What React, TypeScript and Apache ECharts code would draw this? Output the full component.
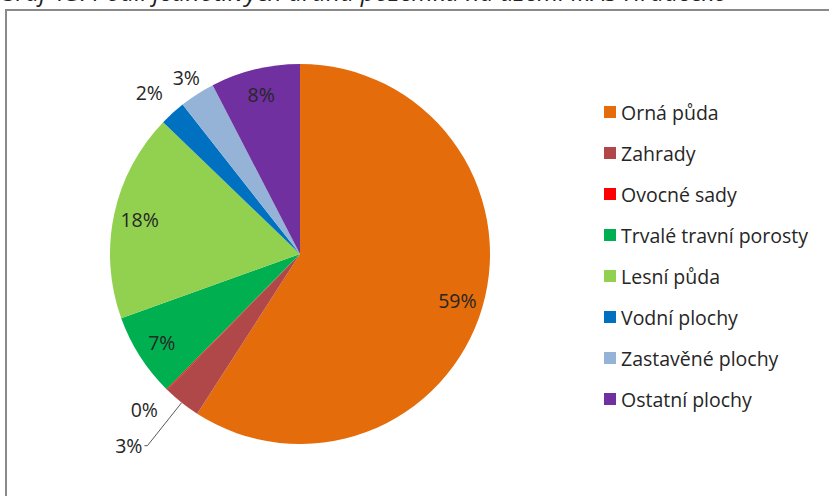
import React, { useEffect, useRef } from "react";
import * as echarts from "echarts";

const titleText = "Graf 13: Podíl jednotlivých druhů pozemků na území MAS Hradecko";
const categories = [
  "Orná půda",
  "Zahrady",
  "Ovocné sady",
  "Trvalé travní porosty",
  "Lesní půda",
  "Vodní plochy",
  "Zastavěné plochy",
  "Ostatní plochy",
];
const values = [59.1, 3.2, 0.1, 7.1, 17.7, 2.2, 3.0, 7.6];
const colors = ["#E46C0A", "#B0484A", "#FF0000", "#00B050", "#92D050", "#0070C0", "#95B3D7", "#7030A0"];

// label placement (styling only)
const insideLabelIdx = [0, 3, 4, 7];
const outsideLabelCfg: Record<number, { len: number; len2: number; dist: number; line: boolean }> = {
  1: { len: 55, len2: 3, dist: 2, line: true },
  2: { len: 28.5, len2: 0, dist: -11, line: false },
  5: { len: 27.8, len2: 0, dist: -9, line: false },
  6: { len: 20.4, len2: 0, dist: -13.8, line: false },
};

const FONT = "Open Sans";
const TXT = "#262626";

export default function App() {
  const ref = useRef<HTMLDivElement>(null);
  useEffect(() => {
    if (!ref.current) return;
    const chart = echarts.init(ref.current, undefined, { renderer: "svg" });
    const fmt = (p: any) => Math.round(p.value) + "%";
    const shapeData = categories.map((name, i) => {
      const cfg = outsideLabelCfg[i];
      const item: any = { name, value: values[i], itemStyle: { color: colors[i] } };
      if (cfg) {
        item.label = { show: true, position: "outside", distanceToLabelLine: cfg.dist };
        item.labelLine = {
          show: cfg.line,
          length: cfg.len,
          length2: cfg.len2,
          lineStyle: { color: "#595959", width: 1 },
        };
      }
      return item;
    });
    const labelData = categories.map((name, i) => ({
      name,
      value: values[i],
      itemStyle: { color: "rgba(0,0,0,0)" },
      label: { show: insideLabelIdx.includes(i) },
    }));
    chart.setOption({
      animation: false,
      backgroundColor: "#ffffff",
      graphic: [
        {
          type: "rect",
          shape: { x: 6, y: 10, width: 1000, height: 1000 },
          style: { fill: "none", stroke: "#8a8a8a", lineWidth: 2 },
          silent: true,
        },
        {
          type: "text",
          x: -1,
          y: -9,
          style: {
            text: titleText,
            font: `italic 24.5px "${FONT}"`,
            fill: "#222222",
            verticalAlign: "middle",
            align: "left",
          },
          silent: true,
        },
      ],
      legend: {
        orient: "vertical",
        left: 599,
        top: 97,
        itemWidth: 12,
        itemHeight: 12,
        itemGap: 21,
        icon: "rect",
        data: categories,
        textStyle: { fontFamily: FONT, fontSize: 19.5, color: TXT, lineHeight: 20 },
      },
      series: [
        {
          type: "pie",
          center: [300, 254],
          radius: [0, 190],
          startAngle: 90,
          clockwise: true,
          avoidLabelOverlap: false,
          itemStyle: { borderWidth: 0 },
          label: {
            show: false,
            fontFamily: FONT,
            fontSize: 19.5,
            color: TXT,
            formatter: fmt,
          },
          labelLine: { show: false },
          emphasis: { disabled: true },
          data: shapeData,
        },
        {
          type: "pie",
          center: [300, 254],
          radius: [0, 322],
          startAngle: 90,
          clockwise: true,
          silent: true,
          avoidLabelOverlap: false,
          label: {
            show: false,
            position: "inside",
            fontFamily: FONT,
            fontSize: 19.5,
            color: TXT,
            formatter: fmt,
          },
          labelLine: { show: false },
          emphasis: { disabled: true },
          data: labelData,
        },
      ],
    });
    return () => chart.dispose();
  }, []);
  return (
    <div
      ref={ref}
      style={{ position: "fixed", left: 0, top: 0, width: 829, height: 496 }}
    />
  );
}
